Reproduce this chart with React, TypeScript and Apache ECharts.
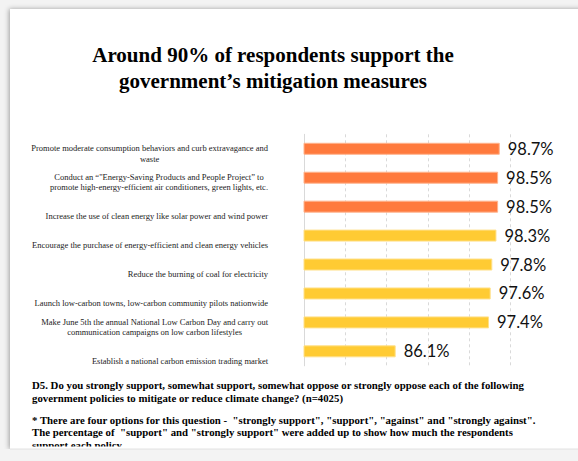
import React, { useEffect, useRef } from "react";
import * as echarts from "echarts";

const categories: string[] = [
  "Promote moderate consumption behaviors and curb extravagance and\nwaste",
  "Conduct an “\"Energy-Saving Products and People Project” to\npromote high-energy-efficient air conditioners, green lights, etc.",
  "Increase the use of clean energy like solar power and wind power",
  "Encourage the purchase of energy-efficient and clean energy vehicles",
  "Reduce the burning of coal for electricity",
  "Launch low-carbon towns, low-carbon community pilots nationwide",
  "Make June 5th the annual National Low Carbon Day and carry out\ncommunication campaigns on low carbon lifestyles",
  "Establish a national carbon emission trading market",
];
const supportValues: number[] = [98.7, 98.5, 98.5, 98.3, 97.8, 97.6, 97.4, 86.1];
const highlighted: boolean[] = [true, true, true, false, false, false, false, false];

const titleText = "Around 90% of respondents support the\ngovernment’s mitigation measures";
const questionText =
  "D5. Do you strongly support, somewhat support, somewhat oppose or strongly oppose each of the following\ngovernment policies to mitigate or reduce climate change? (n=4025)";
const noteText =
  "* There are four options for this question -  \"strongly support\", \"support\", \"against\" and \"strongly against\".\nThe percentage of  \"support\" and \"strongly support\" were added up to show how much the respondents\nsupport each policy";

const axisMin = 75;
const axisMax = 100;
const axisStep = 5;

export default function App() {
  const ref = useRef<HTMLDivElement>(null);
  useEffect(() => {
    if (!ref.current) return;
    const chart = echarts.init(ref.current, undefined, { renderer: "svg" });
    const serif = "'Liberation Serif', 'Times New Roman', serif";
    chart.setOption({
      animation: false,
      backgroundColor: "#f3f3f3",
      title: {
        text: titleText,
        left: 268,
        top: 37,
        textAlign: "center",
        textStyle: {
          fontFamily: serif,
          fontWeight: "bold",
          fontSize: 21,
          lineHeight: 26,
          color: "#000",
        },
      },
      graphic: [
        {
          type: "rect",
          z: -100,
          shape: { x: 10, y: 9, width: 600, height: 440 },
          style: {
            fill: "#ffffff",
            shadowBlur: 5,
            shadowColor: "rgba(0,0,0,0.35)",
            shadowOffsetX: -1,
            shadowOffsetY: 0,
          },
        },
        {
          type: "text",
          left: 32,
          top: 378.5,
          style: {
            text: questionText,
            font: `bold 10.8px ${serif}`,
            lineHeight: 13,
            fill: "#000",
          },
        },
        {
          type: "text",
          left: 32,
          top: 413.5,
          style: {
            text: noteText,
            font: `bold 10.8px ${serif}`,
            lineHeight: 12.5,
            fill: "#000",
          },
        },
        {
          type: "rect",
          z: 100,
          shape: { x: 11, y: 446.5, width: 578, height: 2.5 },
          style: { fill: "#ffffff" },
        },
        {
          type: "rect",
          z: 100,
          shape: { x: 0, y: 449, width: 578, height: 12 },
          style: { fill: "#f3f3f3" },
        },
        {
          type: "line",
          z: 101,
          shape: { x1: 10, y1: 449, x2: 578, y2: 449 },
          style: { stroke: "#e2e2e2", lineWidth: 1 },
        },
      ],
      grid: { left: 304, right: 67.5, top: 134.3, bottom: 95.2, containLabel: false },
      xAxis: {
        type: "value",
        min: axisMin,
        max: axisMax,
        interval: axisStep,
        axisLabel: { show: false },
        axisTick: { show: false },
        axisLine: { show: false },
        splitLine: { show: true, lineStyle: { color: "#d9d9d9", type: [3, 3], width: 1 } },
      },
      yAxis: {
        type: "category",
        inverse: true,
        data: categories,
        axisTick: { show: false },
        axisLine: { show: true, lineStyle: { color: "#d9d9d9", width: 1 } },
        axisLabel: {
          margin: 36,
          align: "right",
          verticalAlign: "bottom",
          padding: [0, 0, -15, 0],
          fontFamily: serif,
          fontSize: 8.5,
          lineHeight: 10.5,
          color: "#222",
          formatter: (v: string) =>
            v
              .split("\n")
              .map((l) => `{c|${l}}`)
              .join("\n"),
          rich: {
            c: {
              align: "center",
              fontFamily: serif,
              fontSize: 8.5,
              lineHeight: 10.5,
              color: "#222",
            },
          },
        },
      },
      series: [
        {
          type: "bar",
          data: supportValues.map((v, i) => ({
            value: v,
            itemStyle: highlighted[i]
              ? { color: "#ff7a3d", borderColor: "#ffb48e", borderWidth: 1 }
              : { color: "#ffcb33", borderColor: "#ffe08a", borderWidth: 1 },
          })),
          barWidth: 12,
          label: {
            show: true,
            position: "right",
            distance: 8,
            formatter: (p: any) => `${p.value.toFixed(1)}%`,
            fontFamily: "Lato, 'Open Sans', sans-serif",
            fontSize: 16.5,
            color: "#111",
          },
        },
      ],
    });
    return () => chart.dispose();
  }, []);
  return (
    <div
      ref={ref}
      style={{ position: "fixed", left: 0, top: 0, width: 578, height: 461 }}
    />
  );
}
